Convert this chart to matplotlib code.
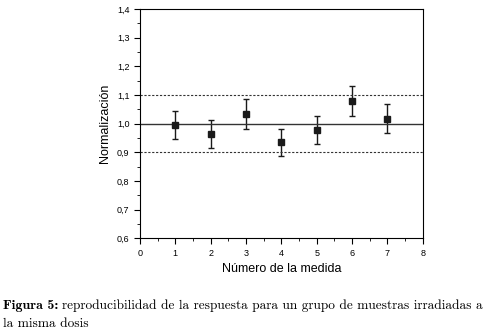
import matplotlib.pyplot as plt
from matplotlib.ticker import MultipleLocator, FuncFormatter

medida = [1, 2, 3, 4, 5, 6, 7]
normalizacion = [0.995, 0.964, 1.034, 0.935, 0.977, 1.079, 1.017]
error = [0.050, 0.048, 0.052, 0.047, 0.048, 0.053, 0.051]

plt.rcParams["font.family"] = ["Liberation Sans", "DejaVu Sans"]

fig = plt.figure(figsize=(4.98, 3.34), dpi=100)
ax = fig.add_axes([0.281, 0.287, 0.568, 0.686])

ax.errorbar(medida, normalizacion, yerr=error, fmt="s", color="#1a1a1a",
            markersize=5, elinewidth=1, capsize=2.5, capthick=1)
ax.axhline(1.0, color="#333333", lw=1)
ax.axhline(1.1, color="#333333", lw=0.8, ls=(0, (2, 1.5)))
ax.axhline(0.9, color="#333333", lw=0.8, ls=(0, (2, 1.5)))

ax.set_xlim(0, 8)
ax.set_ylim(0.6, 1.4)
ax.xaxis.set_major_locator(MultipleLocator(1))
ax.xaxis.set_minor_locator(MultipleLocator(0.5))
ax.yaxis.set_major_locator(MultipleLocator(0.1))
ax.yaxis.set_minor_locator(MultipleLocator(0.05))
ax.yaxis.set_major_formatter(FuncFormatter(lambda v, p: f"{v:.1f}".replace(".", ",")))
ax.tick_params(which="both", direction="out", labelsize=6.5, top=False, right=False)
ax.tick_params(which="major", length=4)
ax.tick_params(which="minor", length=2)

ax.set_xlabel("Número de la medida", fontsize=9)
ax.set_ylabel("Normalización", fontsize=9)

# pie de figura
t = fig.text(0.006, 0.075, "Figura 5:", family="cmb10", fontsize=10)
ax.annotate("reproducibilidad de la respuesta para un grupo de muestras irradiadas a",
            xy=(1, 0), xycoords=t, xytext=(2.5, 0), textcoords="offset points",
            family="cmr10", fontsize=9.6, va="bottom")
fig.text(0.006, 0.022, "la misma dosis", family="cmr10", fontsize=9.6)

plt.savefig("out.png", dpi=100)
